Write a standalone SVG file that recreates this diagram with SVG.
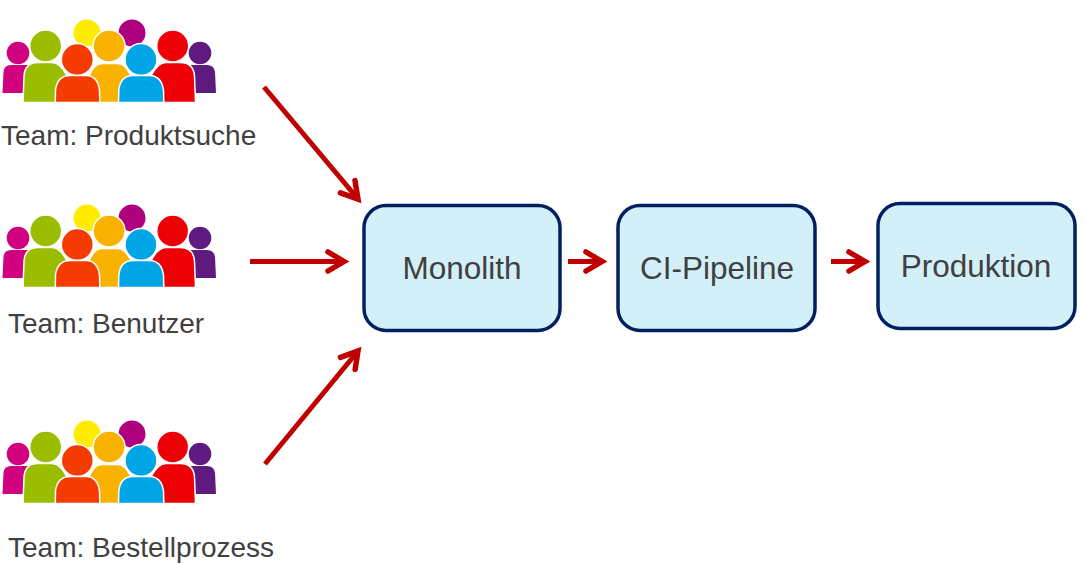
<svg xmlns="http://www.w3.org/2000/svg" width="1088" height="564" viewBox="0 0 1088 564">
<style>
.lbl{font-family:"Liberation Sans",Arial,sans-serif;font-size:28px;fill:#404040}
.box{fill:#D3F0F9;stroke:#002060;stroke-width:3.5}
.boxt{font-family:"Liberation Sans",Arial,sans-serif;font-size:31.5px;fill:#404040;text-anchor:middle}
.arr{fill:none;stroke:#C00000;stroke-width:5;marker-end:url(#ah)}
.p{stroke:#fff;stroke-width:1.5}
</style>
<defs>
<marker id="ah" markerUnits="userSpaceOnUse" markerWidth="30" markerHeight="30" refX="22" refY="13" viewBox="0 0 30 30" orient="auto" overflow="visible">
<path d="M6 3.500 L22 13 L6 22.500" fill="none" stroke="#C00000" stroke-width="5.500" stroke-linecap="round" stroke-linejoin="miter"/>
</marker>
<g id="people">
<circle cx="87" cy="33" r="13.500" fill="#FFEC00"/>
<circle cx="132" cy="33" r="13.500" fill="#AE007E"/>
<circle cx="18" cy="53" r="11.300" fill="#D1007F"/>
<path d="M2.500 93 L3.500 72 Q4 65 11 65 L30 65 L30 93Z" fill="#D1007F"/>
<circle cx="200" cy="53" r="11.300" fill="#5F1A80"/>
<path d="M216 93 L215 72 Q214 65 207 65 L188 65 L188 93Z" fill="#5F1A80"/>
<circle class="p" cx="45.700" cy="46" r="16" fill="#9ABD00"/>
<path class="p" d="M23 102.500 L24 76 Q25 62.500 38 62.500 L52 62.500 Q60 62.500 66.500 75 L66.500 102.500Z" fill="#9ABD00"/>
<circle class="p" cx="172.700" cy="46" r="16" fill="#EE0007"/>
<path class="p" d="M195.500 102.500 L194.500 76 Q193.500 62.500 180 62.500 L166 62.500 Q158 62.500 151.500 75 L151.500 102.500Z" fill="#EE0007"/>
<circle class="p" cx="109" cy="46" r="16" fill="#F9B200"/>
<path class="p" d="M89.500 75 Q94 63.500 102 63.500 L118 63.500 Q125 63.500 130.500 75 L128 102.500 L92 102.500Z" fill="#F9B200"/>
<circle class="p" cx="77.300" cy="59.500" r="16" fill="#F43C00"/>
<path class="p" d="M55.300 102.500 L55.500 90 Q57.500 75.500 70 75.500 L86 75.500 Q97.500 75.500 99.500 90 L99.800 102.500Z" fill="#F43C00"/>
<circle class="p" cx="141" cy="59.500" r="16" fill="#00A5E6"/>
<path class="p" d="M118.500 102.500 L118.800 90 Q120.500 75.500 133 75.500 L149 75.500 Q161.500 75.500 163.500 90 L163.800 102.500Z" fill="#00A5E6"/>
</g>
</defs>
<g id="team-produktsuche"><use href="#people"/><text class="lbl" x="1" y="145">Team: Produktsuche</text></g>
<g id="team-benutzer"><use href="#people" y="185"/><text class="lbl" x="8" y="333">Team: Benutzer</text></g>
<g id="team-bestellprozess"><use href="#people" y="401"/><text class="lbl" x="8" y="557">Team: Bestellprozess</text></g>
<g id="monolith"><rect class="box" x="364" y="205.500" width="196" height="125" rx="22"/><text class="boxt" x="462" y="279">Monolith</text></g>
<g id="ci-pipeline"><rect class="box" x="618" y="205.500" width="197" height="125" rx="22"/><text class="boxt" x="717" y="279">CI-Pipeline</text></g>
<g id="produktion"><rect class="box" x="878" y="203.500" width="197" height="125" rx="22"/><text class="boxt" x="976" y="277">Produktion</text></g>
<g id="connectors">
<path class="arr" d="M264 87 L358 199"/>
<path class="arr" d="M250 261.500 L344 261.500"/>
<path class="arr" d="M265 464 L358 351"/>
<path class="arr" d="M568 261.500 L602 261.500"/>
<path class="arr" d="M831 261.500 L865 261.500"/>
</g>
</svg>
